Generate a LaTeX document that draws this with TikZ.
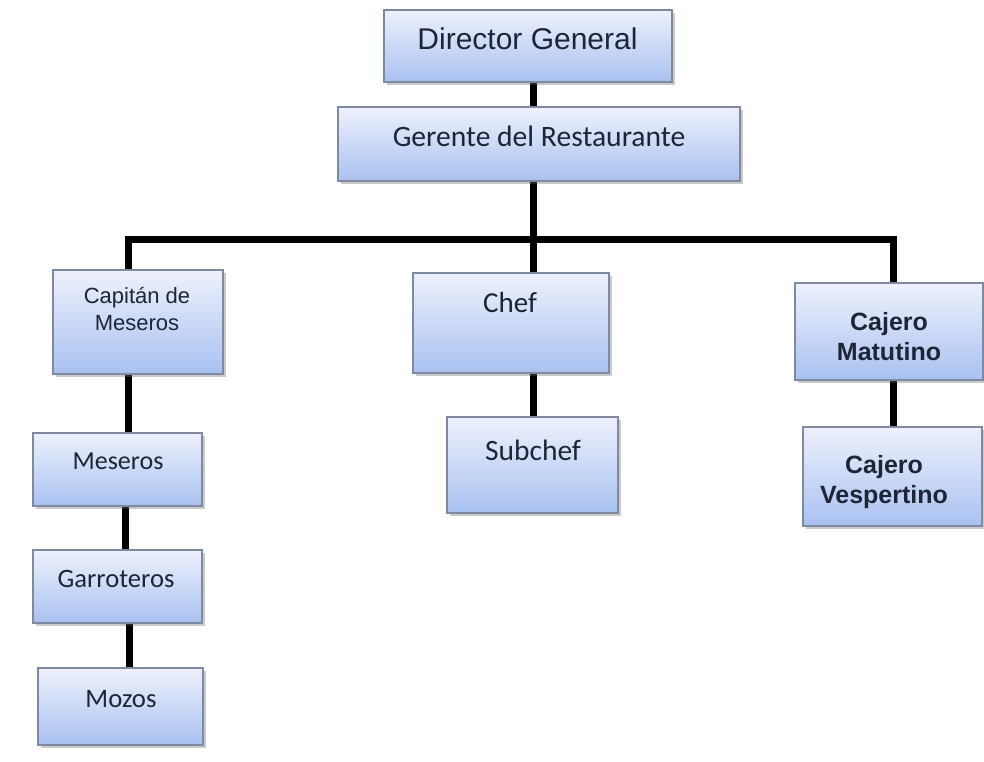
\documentclass[tikz,border=0pt]{standalone}
\usepackage{fontspec}
\setmainfont{Liberation Sans}
\newfontfamily\calib{Carlito}
\usetikzlibrary{shadows,backgrounds}

\definecolor{boxtop}{HTML}{EEF1FC}
\definecolor{boxbot}{HTML}{A9C1F1}
\definecolor{boxline}{HTML}{7D8AA2}
\definecolor{ink}{HTML}{1E2536}

\tikzset{
  orgbox/.style={rectangle, draw=boxline, line width=1.3pt, inner sep=0pt,
    top color=boxtop, bottom color=boxbot,
    drop shadow={shadow xshift=2.5pt, shadow yshift=-3pt, opacity=0.35, fill=black!60}},
  % base anchor sits on the last line of a multi-line label
  lbl/.style={inner sep=0pt, anchor=base, align=center, text=ink},
  link/.style={line width=7pt, black, line join=miter}
}

\begin{document}
\begin{tikzpicture}[x=1pt, y=-1pt]
\useasboundingbox (0,0) rectangle (984,762);

% boxes
\node[orgbox, minimum width=288pt, minimum height=72pt] (dg)  at (528,46) {};
\node[orgbox, minimum width=402pt, minimum height=74pt] (ger) at (539,144) {};
\node[orgbox, minimum width=170pt, minimum height=104pt] (cap) at (138,322) {};
\node[orgbox, minimum width=196pt, minimum height=100pt] (chef) at (511,323) {};
\node[orgbox, minimum width=171pt, minimum height=96pt] (sub) at (532.5,465) {};
\node[orgbox, minimum width=188pt, minimum height=97pt] (cm) at (889,331.5) {};
\node[orgbox, minimum width=179pt, minimum height=99pt] (cv) at (892.5,476.5) {};
\node[orgbox, minimum width=169pt, minimum height=73pt] (mes) at (117.5,469.5) {};
\node[orgbox, minimum width=169pt, minimum height=73pt] (gar) at (117.5,586.5) {};
\node[orgbox, minimum width=165pt, minimum height=77pt] (moz) at (120.5,706.5) {};

% labels
\node[lbl, font=\fontsize{30}{36}\selectfont] (dgt) at (527.5,50) {Director General};
\node[lbl, font=\calib\fontsize{29.6}{36}\selectfont] (gert) at (539,147) {Gerente del Restaurante};
\node[lbl, font=\fontsize{22}{27}\selectfont] (capt) at (137,330) {Capitán de\\Meseros};
\node[lbl, font=\calib\fontsize{29}{35}\selectfont] (cheft) at (510,312) {Chef};
\node[lbl, font=\calib\fontsize{29.5}{35}\selectfont] (subt) at (533,460) {Subchef};
\node[lbl, font=\bfseries\fontsize{25}{30}\selectfont] (cmt) at (889,360) {Cajero\\Matutino};
\node[lbl, font=\bfseries\fontsize{25}{30}\selectfont] (cvt) at (884,503) {Cajero\\Vespertino};
\node[lbl, font=\calib\fontsize{26}{31}\selectfont] (mest) at (118,469) {Meseros};
\node[lbl, font=\calib\fontsize{26.6}{31}\selectfont] (gart) at (116,587) {Garroteros};
\node[lbl, font=\calib\fontsize{26.7}{31}\selectfont] (mozt) at (121,707) {Mozos};

% bus junctions and connector columns
\coordinate (busL) at (128,239);
\coordinate (busC) at (533,239);
\coordinate (busR) at (893,239);
\coordinate (colA) at (125,0);
\coordinate (colB) at (129.5,0);

\begin{pgfonlayer}{background}
\draw[link] (dg.south -| busC) -- (ger.north -| busC);
\draw[link] (ger.south -| busC) -- (busC);
\draw[link] (cap.north -| busL) -- (busL) -- (busR) -- (cm.north -| busR);
\draw[link] (busC) -- (chef.north -| busC);
\draw[link] (cap.south -| busL) -- (mes.north -| busL);
\draw[link] (mes.south -| colA) -- (gar.north -| colA);
\draw[link] (gar.south -| colB) -- (moz.north -| colB);
\draw[link] (chef.south -| busC) -- (sub.north -| busC);
\draw[link] (cm.south -| busR) -- (cv.north -| busR);
\end{pgfonlayer}
\end{tikzpicture}
\end{document}
